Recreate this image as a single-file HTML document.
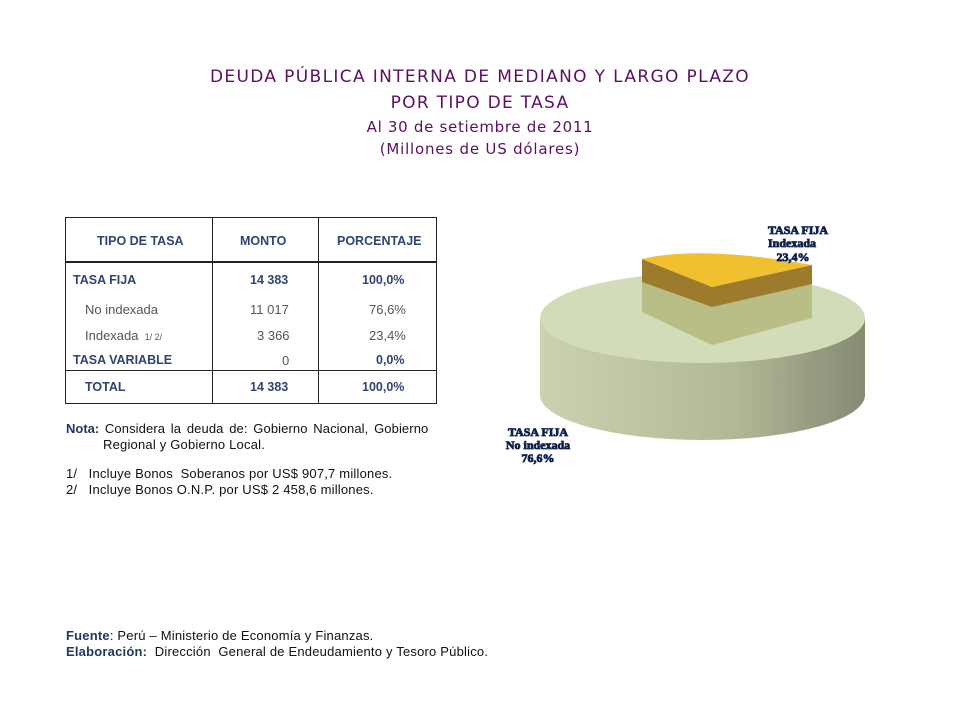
<!DOCTYPE html>
<html><head><meta charset="utf-8"><style>
body{margin:0;width:960px;height:720px;background:#fff;position:relative;overflow:hidden;font-family:"Liberation Sans",sans-serif}
.t{position:absolute;white-space:nowrap}
.ti{color:#5c1060;font-family:"DejaVu Sans","Liberation Sans",sans-serif;left:0;width:960px;text-align:center}
.tb{font-size:12.5px;font-weight:bold;color:#2f4470}
.tr{font-size:13px;color:#555}
.n{font-size:13px;color:#111;letter-spacing:0.2px}
</style></head><body>
<div class="t ti" style="top:67px;font-size:17px;letter-spacing:1.35px">DEUDA PÚBLICA INTERNA DE MEDIANO Y LARGO PLAZO</div>
<div class="t ti" style="top:93px;font-size:17px;letter-spacing:1.3px">POR TIPO DE TASA</div>
<div class="t ti" style="top:118px;font-size:15px;letter-spacing:0.7px">Al 30 de setiembre de 2011</div>
<div class="t ti" style="top:140px;font-size:15px;letter-spacing:0.8px">(Millones de US dólares)</div>

<div style="position:absolute;left:65px;top:217px;width:370px;height:185px;border:1px solid #222"></div>
<div style="position:absolute;left:212px;top:217px;width:1px;height:186px;background:#222"></div>
<div style="position:absolute;left:318px;top:217px;width:1px;height:186px;background:#222"></div>
<div style="position:absolute;left:65px;top:261px;width:371px;height:2px;background:#222"></div>
<div style="position:absolute;left:65px;top:370px;width:371px;height:1px;background:#222"></div>

<div class="t tb" style="left:97px;top:234px">TIPO DE TASA</div>
<div class="t tb" style="left:240px;top:234px">MONTO</div>
<div class="t tb" style="left:337px;top:234px">PORCENTAJE</div>
<div class="t tb" style="left:73px;top:273px">TASA FIJA</div>
<div class="t tb" style="left:250px;top:273px">14 383</div>
<div class="t tb" style="left:362px;top:273px">100,0%</div>
<div class="t tr" style="left:85px;top:302px">No indexada</div>
<div class="t tr" style="left:250px;top:302px">11 017</div>
<div class="t tr" style="left:369px;top:302px">76,6%</div>
<div class="t tr" style="left:85px;top:328px">Indexada <span style="font-size:9px">&nbsp;1/ 2/</span></div>
<div class="t tr" style="left:257px;top:328px">3 366</div>
<div class="t tr" style="left:369px;top:328px">23,4%</div>
<div class="t tb" style="left:73px;top:353px">TASA VARIABLE</div>
<div class="t tr" style="left:282px;top:353px">0</div>
<div class="t tb" style="left:376px;top:353px">0,0%</div>
<div class="t tb" style="left:85px;top:380px">TOTAL</div>
<div class="t tb" style="left:250px;top:380px">14 383</div>
<div class="t tb" style="left:362px;top:380px">100,0%</div>

<div class="t n" style="left:66px;top:421px;letter-spacing:0.1px;word-spacing:2px"><b style="color:#1f3864;letter-spacing:0">Nota:</b> Considera la deuda de: Gobierno Nacional, Gobierno</div>
<div class="t n" style="left:103px;top:437px">Regional y Gobierno Local.</div>
<div class="t n" style="left:66px;top:466px">1/&nbsp;&nbsp; Incluye Bonos&nbsp; Soberanos por US$ 907,7 millones.</div>
<div class="t n" style="left:66px;top:482px">2/&nbsp;&nbsp; Incluye Bonos O.N.P. por US$ 2 458,6 millones.</div>
<div class="t n" style="left:66px;top:628px"><b style="color:#1f3864">Fuente</b>: Perú – Ministerio de Economía y Finanzas.</div>
<div class="t n" style="left:66px;top:644px"><b style="color:#1f3864">Elaboración:</b>&nbsp; Dirección&nbsp; General de Endeudamiento y Tesoro Público.</div>

<svg style="position:absolute;left:0;top:0" width="960" height="720">
<defs><linearGradient id="g" x1="0" x2="1"><stop offset="0" stop-color="#cbd2b0"/><stop offset="0.6" stop-color="#b2b896"/><stop offset="1" stop-color="#858a74"/></linearGradient></defs>
<path d="M540,318 L540,395 A162.5,45 0 0 0 865,395 L865,318 Z" fill="url(#g)"/>
<ellipse cx="702.5" cy="318" rx="162.5" ry="45" fill="#d3dcb9"/>
<polygon points="642,282 712,307 812,282 812,318 712,345 642,312" fill="#b9bd86"/>
<polygon points="642,259 642,282 712,307 812,284 812,265 712,287" fill="#9c7c2c"/>
<path d="M642,259 Q700,245 812,265 L712,287 Z" fill="#f0c030"/>
<g font-family="Liberation Serif,serif" font-weight="bold" font-size="12" fill="#0f2150" text-anchor="middle" stroke="#0f2150" stroke-width="0.8">
<text x="798" y="234">TASA FIJA</text><text x="792" y="247">Indexada</text><text x="793" y="261">23,4%</text>
<text x="538" y="436">TASA FIJA</text><text x="538" y="449">No indexada</text><text x="538" y="462">76,6%</text>
</g>
</svg>
</body></html>
